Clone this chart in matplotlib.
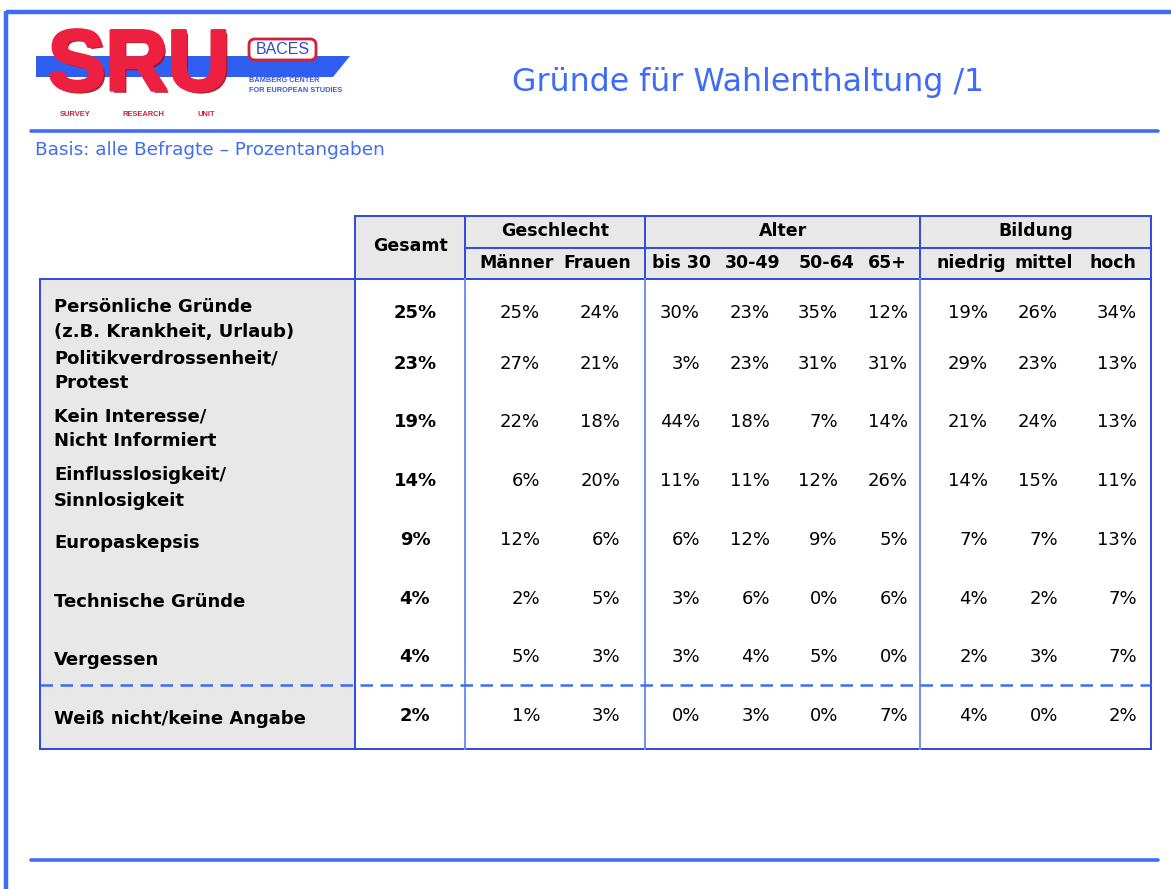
import matplotlib
matplotlib.use("Agg")
import matplotlib.pyplot as plt
import matplotlib.patheffects as pe
from matplotlib.patches import Rectangle, Polygon, FancyBboxPatch

# ---------------- data ----------------
title = "Gründe für Wahlenthaltung /1"
subtitle = "Basis: alle Befragte – Prozentangaben"
categories = ["Persönliche Gründe\n(z.B. Krankheit, Urlaub)",
              "Politikverdrossenheit/\nProtest",
              "Kein Interesse/\nNicht Informiert",
              "Einflusslosigkeit/\nSinnlosigkeit",
              "Europaskepsis",
              "Technische Gründe",
              "Vergessen",
              "Weiß nicht/keine Angabe"]
gesamt = [25, 23, 19, 14, 9, 4, 4, 2]
maenner = [25, 27, 22, 6, 12, 2, 5, 1]
frauen = [24, 21, 18, 20, 6, 5, 3, 3]
bis30 = [30, 3, 44, 11, 6, 3, 3, 0]
alter30_49 = [23, 23, 18, 11, 12, 6, 4, 3]
alter50_64 = [35, 31, 7, 12, 9, 0, 5, 0]
alter65 = [12, 31, 14, 26, 5, 6, 0, 7]
niedrig = [19, 29, 21, 14, 7, 4, 2, 4]
mittel = [26, 23, 24, 15, 7, 2, 3, 0]
hoch = [34, 13, 13, 11, 13, 7, 7, 2]
groups = ["Geschlecht", "Alter", "Bildung"]
subheaders = ["Männer", "Frauen", "bis 30", "30-49", "50-64", "65+", "niedrig", "mittel", "hoch"]

# ---------------- layout ----------------
W, H = 1171, 889
fig = plt.figure(figsize=(W / 100, H / 100), dpi=100)
ax = fig.add_axes([0, 0, 1, 1])
ax.set_xlim(0, W)
ax.set_ylim(H, 0)
ax.axis("off")

BLUE = "#3f6cf6"
LINE = "#2f48e0"
LIGHT = "#6f8ff2"
GRAY = "#e8e8e8"
FONT = "DejaVu Sans"

# frame
ax.plot([6, 6], [11, H], color=BLUE, lw=3.2, solid_capstyle="butt")
ax.plot([6, W], [12, 12], color=BLUE, lw=3.2, solid_capstyle="butt")
ax.plot([31, 1158], [131, 131], color=BLUE, lw=2.6, solid_capstyle="round")
ax.plot([31, 1158], [860, 860], color=BLUE, lw=2.6, solid_capstyle="round")

# logo
ax.add_patch(Polygon([[36, 56], [350, 56], [333, 77], [36, 77]], closed=True,
                     facecolor="#2f5ef0", edgecolor="none"))
ax.text(139, 68, "SRU", fontsize=62, fontweight="bold", color="#ee2040",
        ha="center", va="center", family="Liberation Sans", zorder=4,
        path_effects=[pe.withSimplePatchShadow(offset=(2, -2), shadow_rgbFace="#a01020", alpha=0.9),
                      pe.Stroke(linewidth=2.5, foreground="#ee2040"), pe.Normal()])
ax.add_patch(FancyBboxPatch((250, 40), 65, 19, boxstyle="round,pad=1,rounding_size=6",
                            facecolor="white", edgecolor="#d0203a", lw=2, zorder=5))
ax.text(282.5, 50, "BACES", fontsize=11.5, color="#2a4ad0", ha="center", va="center",
        family="Liberation Sans", zorder=6)
ax.text(249, 80, "BAMBERG CENTER", fontsize=5.3, color="#3a5ad8", fontweight="bold",
        ha="left", va="center", family="Liberation Sans")
ax.text(249, 90, "FOR EUROPEAN STUDIES", fontsize=5.3, color="#3a5ad8", fontweight="bold",
        ha="left", va="center", family="Liberation Sans")
for x, t in [(75, "SURVEY"), (143, "RESEARCH"), (206, "UNIT")]:
    ax.text(x, 114, t, fontsize=5.4, color="#d0203a", fontweight="bold",
            ha="center", va="center", family="Liberation Sans")

# title / subtitle
ax.text(748, 82, title, fontsize=22.8, color=BLUE, ha="center", va="center", family=FONT)
ax.text(35, 150, subtitle, fontsize=13.3, color=BLUE, ha="left", va="center", family=FONT)

# table geometry
xL, xG, xS, xA, xB, xR = 40, 355, 465, 645, 920, 1151
yT, yM, yH, yB = 216, 248, 279, 749
ydash = 685

ax.add_patch(Rectangle((xG, yT), xR - xG, yH - yT, facecolor=GRAY, edgecolor="none"))
ax.add_patch(Rectangle((xL, yH), xG - xL, yB - yH, facecolor=GRAY, edgecolor="none"))

lw = 1.4
ax.plot([xG, xR], [yT, yT], color=LINE, lw=lw)
ax.plot([xS, xR], [yM, yM], color=LINE, lw=lw)
ax.plot([xL, xR], [yH, yH], color=LINE, lw=lw)
ax.plot([xL, xR], [yB, yB], color=LINE, lw=lw)
ax.plot([xL, xL], [yH, yB], color=LINE, lw=lw)
ax.plot([xG, xG], [yT, yB], color=LINE, lw=lw)
ax.plot([xR, xR], [yT, yB], color=LINE, lw=lw)
for x in (xS, xA, xB):
    ax.plot([x, x], [yT, yH], color=LINE, lw=lw)
    ax.plot([x, x], [yH, yB], color=LIGHT, lw=lw)
ax.plot([xL, xR], [ydash, ydash], color=BLUE, lw=1.8, linestyle=(0, (5, 3)))

# headers
hs = 12.5
ax.text(410, 246, "Gesamt", fontsize=hs, fontweight="bold", ha="center", va="center", family=FONT)
for x, g in zip([555, 783, 1036], groups):
    ax.text(x, 231, g, fontsize=hs, fontweight="bold", ha="center", va="center", family=FONT)
sub_x = [517, 597, 681, 753, 826, 887, 971, 1044, 1113]
for x, s in zip(sub_x, subheaders):
    ax.text(x, 263, s, fontsize=hs, fontweight="bold", ha="center", va="center", family=FONT)

# body
row_y = [313, 364, 422, 481, 540, 599, 657, 716]
cols = [maenner, frauen, bis30, alter30_49, alter50_64, alter65, niedrig, mittel, hoch]
right_x = [540, 620, 700, 770, 838, 908, 988, 1058, 1137]
for i, (lab, y) in enumerate(zip(categories, row_y)):
    ly = y + 7 if "\n" in lab else y + 3
    ax.text(54, ly, lab, fontsize=13, fontweight="bold", ha="left", va="center",
            family=FONT, linespacing=1.5)
    ax.text(415, y, f"{gesamt[i]}%", fontsize=13, fontweight="bold", ha="center",
            va="center", family=FONT)
    for c, rx in zip(cols, right_x):
        ax.text(rx, y, f"{c[i]}%", fontsize=13, ha="right", va="center", family=FONT)

fig.savefig("out.png", dpi=100)
